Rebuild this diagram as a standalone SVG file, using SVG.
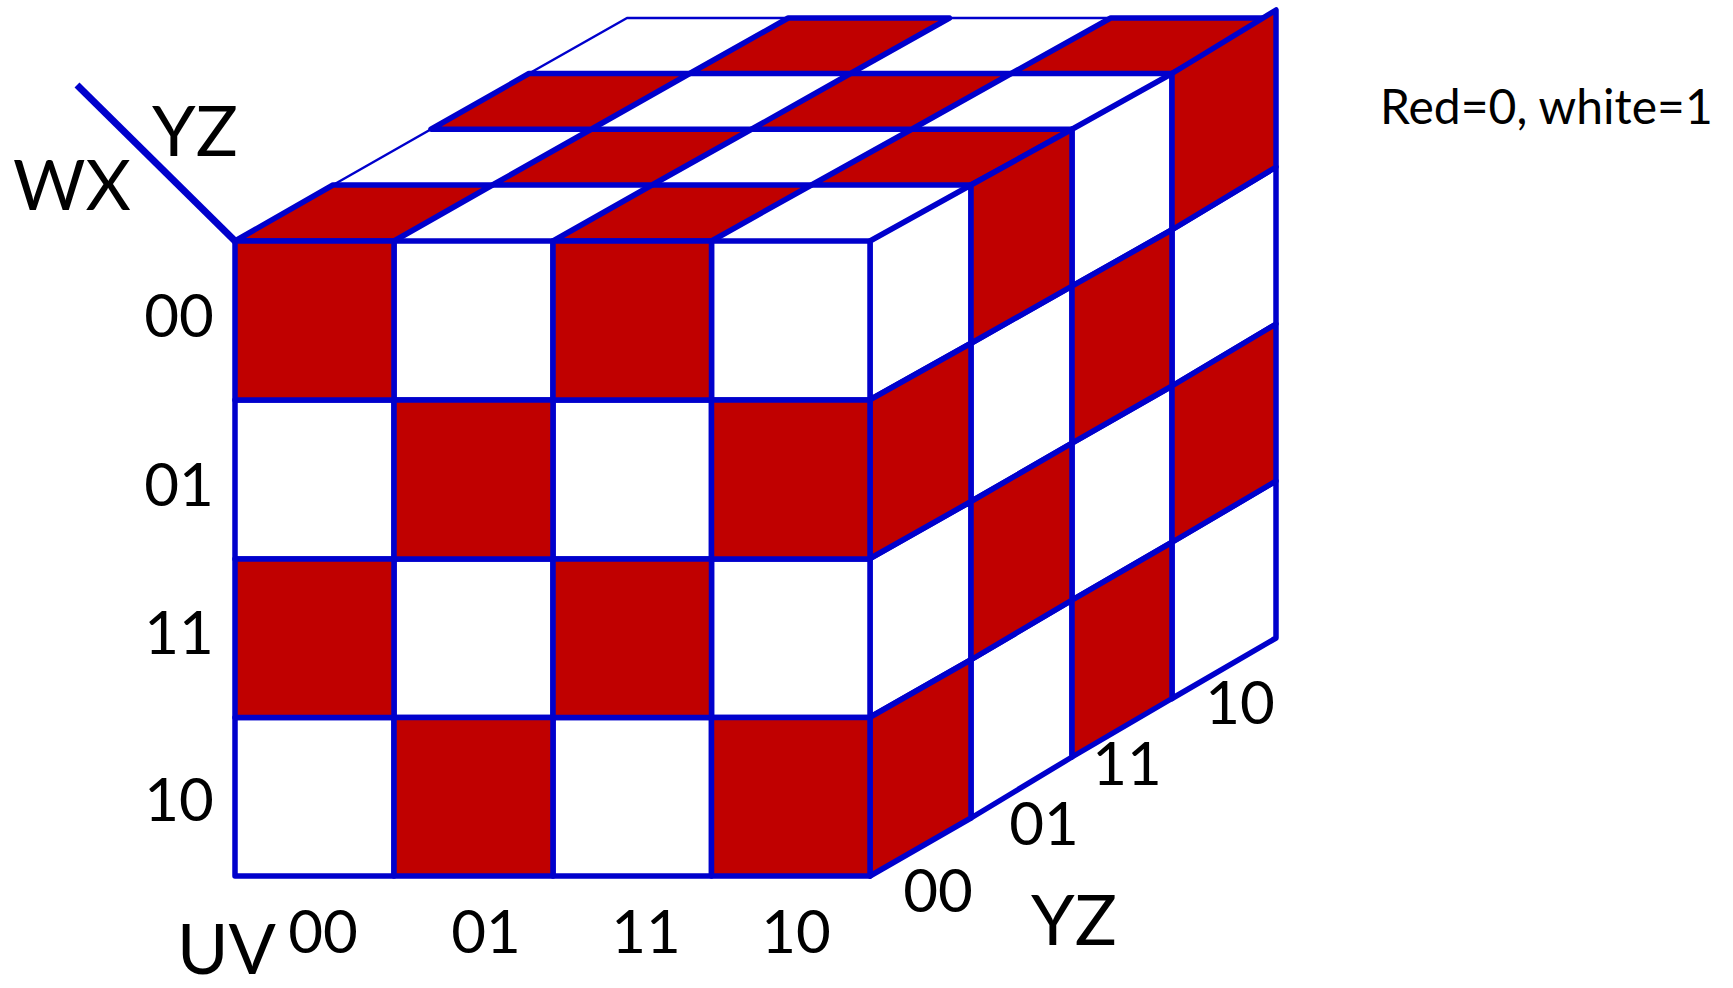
<svg xmlns="http://www.w3.org/2000/svg" width="1733" height="988" viewBox="0 0 1733 988">
<style>
.w{fill:#ffffff;stroke:#0000cc;stroke-width:5.5;stroke-linejoin:round}
.wt{fill:#ffffff;stroke:#0000cc;stroke-width:2.5;stroke-linejoin:round}
.r{fill:#c00000;stroke:#0000cc;stroke-width:5.5;stroke-linejoin:round}
.t{font-family:Lato,"Liberation Sans",sans-serif;fill:#000000}
.d{font-size:60px;text-anchor:middle}
.ax{font-size:70px}
</style>
<rect width="1733" height="988" fill="#ffffff"/>
<g id="top-face">
<polygon class="wt" points="394,241 553,241 652,185 492.5,185"/>
<polygon class="wt" points="711.5,241 870,241 971,185 811.5,185"/>
<polygon class="wt" points="333,185 492.5,185 591.25,129.25 431,129.25"/>
<polygon class="wt" points="652,185 811.5,185 911.75,129.25 751.5,129.25"/>
<polygon class="wt" points="591.25,129.25 751.5,129.25 850.5,73.5 689.75,73.5"/>
<polygon class="wt" points="911.75,129.25 1072,129.25 1172,73.5 1011.25,73.5"/>
<polygon class="wt" points="529,73.5 689.75,73.5 788.25,18 627,18"/>
<polygon class="wt" points="850.5,73.5 1011.25,73.5 1110.75,18 949.5,18"/>
<polygon class="r" points="235,241 394,241 492.5,185 333,185"/>
<polygon class="r" points="553,241 711.5,241 811.5,185 652,185"/>
<polygon class="r" points="492.5,185 652,185 751.5,129.25 591.25,129.25"/>
<polygon class="r" points="811.5,185 971,185 1072,129.25 911.75,129.25"/>
<polygon class="r" points="431,129.25 591.25,129.25 689.75,73.5 529,73.5"/>
<polygon class="r" points="751.5,129.25 911.75,129.25 1011.25,73.5 850.5,73.5"/>
<polygon class="r" points="689.75,73.5 850.5,73.5 949.5,18 788.25,18"/>
<polygon class="r" points="1011.25,73.5 1172,73.5 1272,18 1110.75,18"/>
</g>
<g id="right-face">
<polygon class="w" points="870,241 971,185 971,343.25 870,399.75"/>
<polygon class="w" points="870,558.5 971,501.5 971,659.75 870,717.25"/>
<polygon class="w" points="971,343.25 1072,286.19 1072,443.13 971,501.5"/>
<polygon class="w" points="971,659.75 1072,600.06 1072,757 971,818"/>
<polygon class="w" points="1072,129.25 1172,73.5 1172,229.75 1072,286.19"/>
<polygon class="w" points="1072,443.13 1172,386 1172,542.25 1072,600.06"/>
<polygon class="w" points="1172,229.75 1276,167 1276,324 1172,386"/>
<polygon class="w" points="1172,542.25 1276,481 1276,638 1172,698.5"/>
<polygon class="r" points="870,399.75 971,343.25 971,501.5 870,558.5"/>
<polygon class="r" points="870,717.25 971,659.75 971,818 870,876"/>
<polygon class="r" points="971,185 1072,129.25 1072,286.19 971,343.25"/>
<polygon class="r" points="971,501.5 1072,443.13 1072,600.06 971,659.75"/>
<polygon class="r" points="1072,286.19 1172,229.75 1172,386 1072,443.13"/>
<polygon class="r" points="1072,600.06 1172,542.25 1172,698.5 1072,757"/>
<polygon class="r" points="1172,73.5 1276,10 1276,167 1172,229.75"/>
<polygon class="r" points="1172,386 1276,324 1276,481 1172,542.25"/>
</g>
<g id="front-face">
<rect class="w" x="394" y="241" width="159" height="159"/>
<rect class="w" x="711.5" y="241" width="158.5" height="159"/>
<rect class="w" x="235" y="400" width="159" height="159"/>
<rect class="w" x="553" y="400" width="158.5" height="159"/>
<rect class="w" x="394" y="559" width="159" height="158.5"/>
<rect class="w" x="711.5" y="559" width="158.5" height="158.5"/>
<rect class="w" x="235" y="717.5" width="159" height="158.5"/>
<rect class="w" x="553" y="717.5" width="158.5" height="158.5"/>
<rect class="r" x="235" y="241" width="159" height="159"/>
<rect class="r" x="553" y="241" width="158.5" height="159"/>
<rect class="r" x="394" y="400" width="159" height="159"/>
<rect class="r" x="711.5" y="400" width="158.5" height="159"/>
<rect class="r" x="235" y="559" width="159" height="158.5"/>
<rect class="r" x="553" y="559" width="158.5" height="158.5"/>
<rect class="r" x="394" y="717.5" width="159" height="158.5"/>
<rect class="r" x="711.5" y="717.5" width="158.5" height="158.5"/>
</g>
<g id="connectors">
<line x1="77" y1="85" x2="236" y2="242" stroke="#0000cc" stroke-width="7"/>
</g>
<g id="labels">
<text class="t ax" x="152" y="156" font-size="68">YZ</text>
<text class="t ax" x="13" y="210" font-size="72">WX</text>
<text class="t d" x="179" y="337">00</text>
<text class="t d" x="179" y="506">01</text>
<text class="t d" x="179" y="654">11</text>
<text class="t d" x="179" y="821">10</text>
<text class="t d" x="323" y="953">00</text>
<text class="t d" x="486" y="953">01</text>
<text class="t d" x="646" y="953">11</text>
<text class="t d" x="796" y="953">10</text>
<text class="t ax" x="177" y="974" font-size="68">UV</text>
<text class="t d" x="938" y="912">00</text>
<text class="t d" x="1044" y="845">01</text>
<text class="t d" x="1127" y="785">11</text>
<text class="t d" x="1240" y="724">10</text>
<text class="t ax" x="1074" y="945" font-size="68" text-anchor="middle">YZ</text>
<text class="t" x="1380" y="124" font-size="48">Red=0, white=1</text>
</g>
</svg>
